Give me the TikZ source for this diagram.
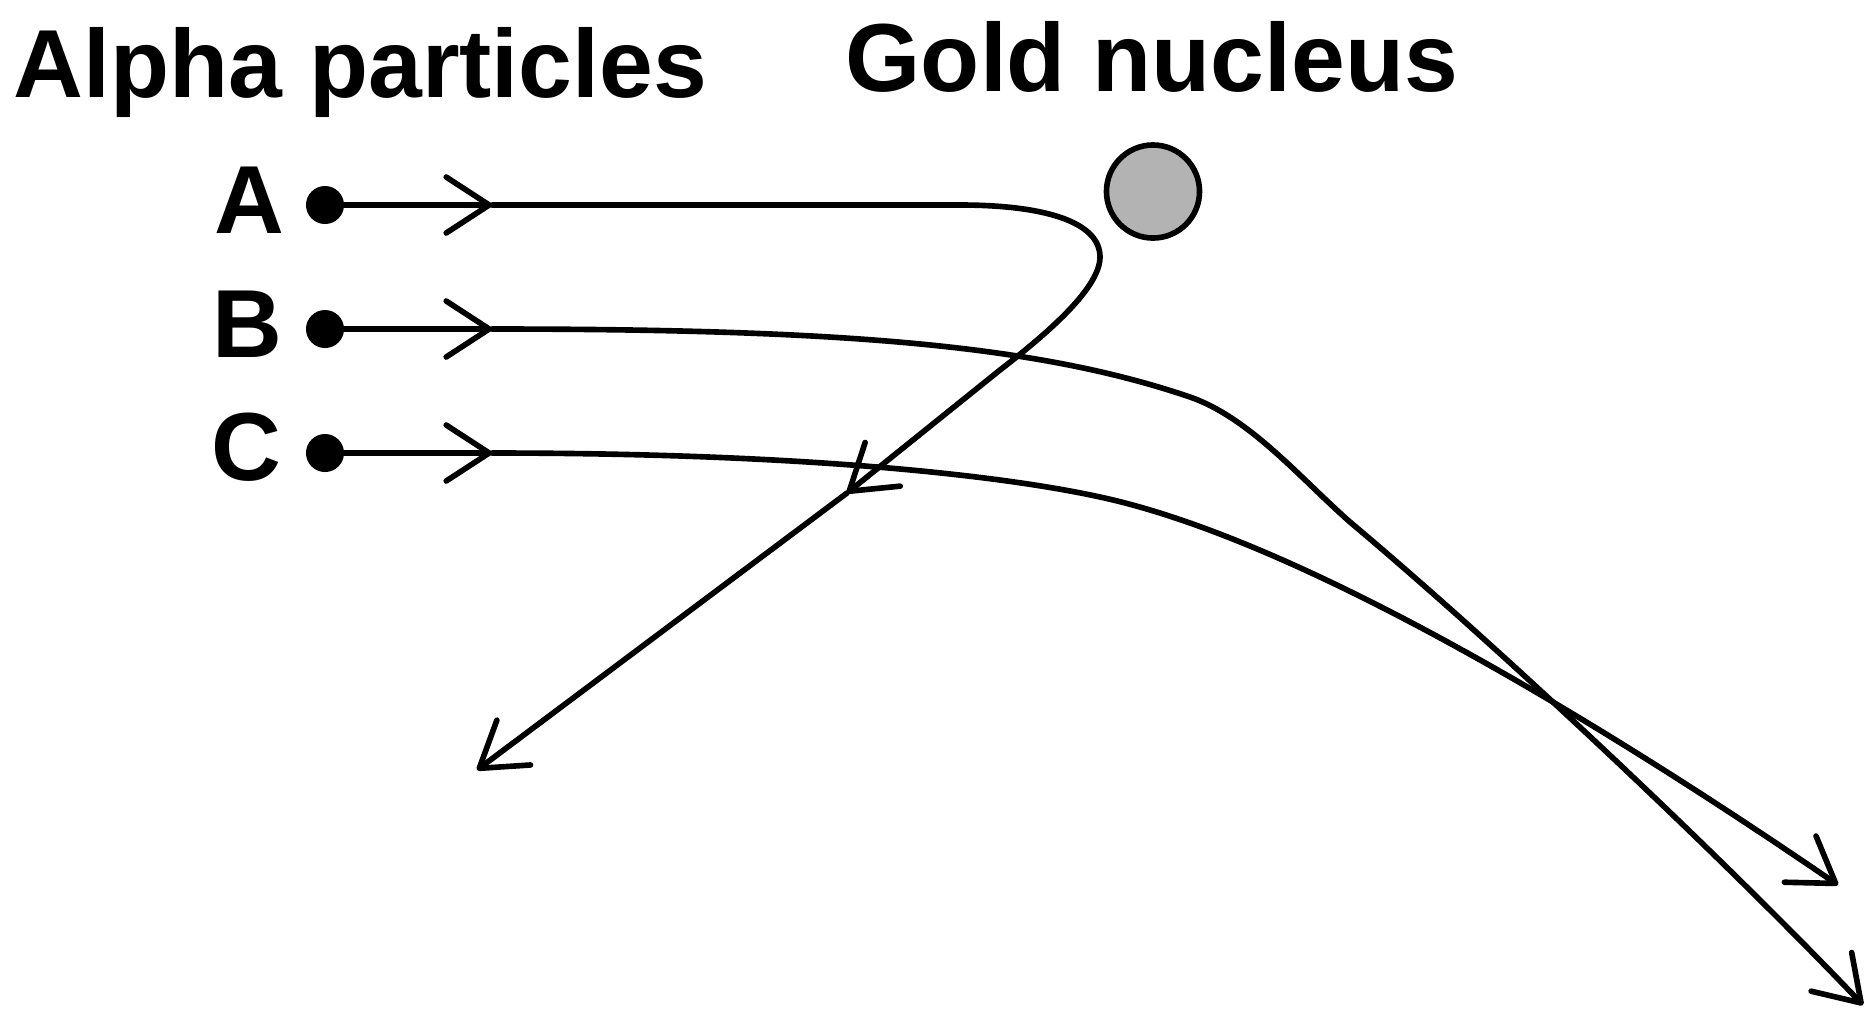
\documentclass[tikz,border=0pt]{standalone}
\usepackage{fontspec}
\setmainfont{Liberation Sans}
\usetikzlibrary{arrows.meta}
\definecolor{nucleusgray}{HTML}{B3B3B3}
\begin{document}
\begin{tikzpicture}[x=0.01cm,y=-0.01cm,
  lbl/.style={font=\fontsize{27.5pt}{33pt}\selectfont\bfseries, inner sep=0pt, anchor=base west},
  dot/.style={circle, fill=black, inner sep=0pt, minimum size=0.38cm},
  track/.style={line width=1.6pt, line cap=round, line join=round},
  endarr/.style={-{Straight Barb[length=4.3mm,width=5.6mm,round]}},
  nucl/.style={circle, draw=black, line width=1.6pt, fill=nucleusgray, inner sep=0pt, minimum size=0.93cm}
]
\useasboundingbox (0,0) rectangle (1876,1008);

% titles and labels
\node[lbl] (alpha) at (13,97) {Alpha particles};
\node[lbl] (gold) at (845,91) {Gold nucleus};
\node[lbl] (labA) at (214,233) {A};
\node[lbl] (labB) at (212,357) {B};
\node[lbl] (labC) at (211,480) {C};

% nucleus
\node[nucl] (nucleus) at (1153,191.5) {};

% key points
\coordinate (chA) at (492,205);
\coordinate (chB) at (492,329);
\coordinate (chC) at (492,453);
\coordinate (Amid) at (847,493);
\coordinate (Aend) at (477,770);
\coordinate (Bend) at (1863,1005);
\coordinate (Cend) at (1838,885);
\path (325,205) coordinate (pA) (325,329) coordinate (pB) (325,453) coordinate (pC);

% track A
\draw[track, endarr] (pA) -- (chA);
\draw[track, endarr] (chA) -- (960,205) .. controls (1045,205) and (1100,222) .. (1100,257)
   .. controls (1100,290) and (1040,339) .. (1000,370) -- (Amid);
\draw[track, endarr] (Amid) -- (Aend);

% track B
\draw[track, endarr] (pB) -- (chB);
\draw[track, endarr] (chB) .. controls (850,329) and (1040,346) .. (1190,397)
   .. controls (1250,418) and (1300,478) .. (1350,522)
   .. controls (1500,648) and (1720,855) .. (Bend);

% track C
\draw[track, endarr] (pC) -- (chC);
\draw[track, endarr] (chC) .. controls (800,453) and (1000,475) .. (1100,497)
   .. controls (1300,540) and (1600,722) .. (Cend);

% source dots
\node[dot] (dotA) at (pA) {};
\node[dot] (dotB) at (pB) {};
\node[dot] (dotC) at (pC) {};
\end{tikzpicture}
\end{document}
